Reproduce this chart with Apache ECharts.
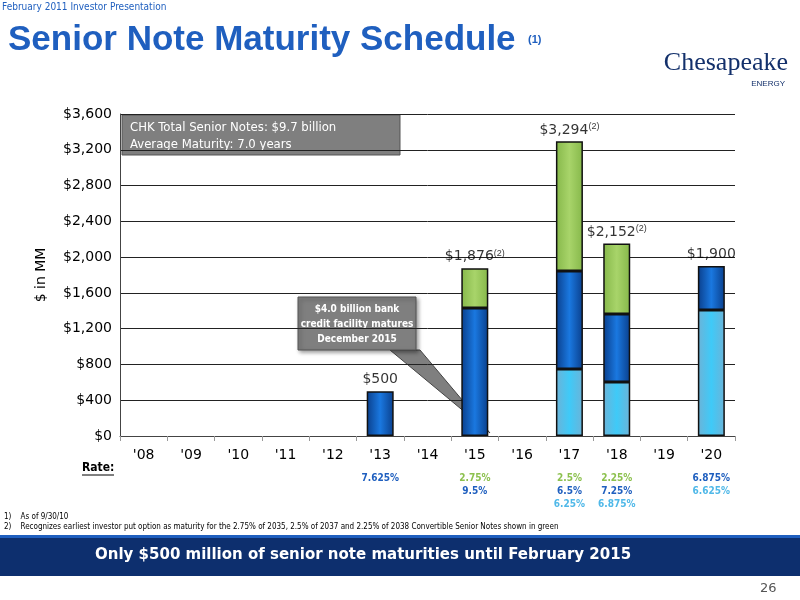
<!DOCTYPE html>
<html><head><meta charset="utf-8">
<script src="https://cdn.jsdelivr.net/npm/echarts@6/dist/echarts.min.js"></script>
<style>html,body{margin:0;padding:0;background:#fff}#c{width:800px;height:600px}</style>
</head><body><div id="c"></div>
<script>
const categories = ["'08","'09","'10","'11","'12","'13","'14","'15","'16","'17","'18","'19","'20"];
const lightBlue = [null,null,null,null,null,null,null,null,null,749,604,null,1409];
const darkBlue  = [null,null,null,null,null,500,null,1432,null,1096,761,null,491];
const green     = [null,null,null,null,null,null,null,444,null,1449,787,null,null];
const totals    = [null,null,null,null,null,500,null,1876,null,3294,2152,null,1900];
const totalNote = ['','','','','','','','(2)','','(2)','(2)','',''];
const rates = {5:[['7.625%','#1f5fbf']],7:[['2.75%','#8dc14f'],['9.5%','#1f5fbf']],9:[['2.5%','#8dc14f'],['6.5%','#1f5fbf'],['6.25%','#4fb8e8']],10:[['2.25%','#8dc14f'],['7.25%','#1f5fbf'],['6.875%','#4fb8e8']],12:[['6.875%','#1f5fbf'],['6.625%','#4fb8e8']]};

const grad=(a,b)=>new echarts.graphic.LinearGradient(0,0,1,0,[{offset:0,color:a},{offset:0.5,color:b},{offset:1,color:a}]);
const barBase={type:'bar',stack:'t',barWidth:27,itemStyle:{borderColor:'#111',borderWidth:1.5}};
const chart=echarts.init(document.getElementById('c'));
const gx0=120,gx1=735,cw=(gx1-gx0)/categories.length;
const rateTexts=[];
Object.keys(rates).forEach(k=>{rates[k].forEach((r,j)=>{rateTexts.push({type:'text',style:{text:r[0],x:gx0+cw*(+k+0.5),y:473+j*13,fill:r[1],font:'bold 10px "DejaVu Sans Condensed", sans-serif',align:'center'}});});});
chart.setOption({
  animation:false,
  grid:{left:120,right:65,top:114,bottom:164},
  xAxis:{type:'category',data:categories,axisLine:{lineStyle:{color:'#444'}},axisTick:{show:true,lineStyle:{color:'#999'}},
    axisLabel:{color:'#000',fontSize:14,fontFamily:'DejaVu Sans',margin:12}},
  yAxis:{type:'value',min:0,max:3600,interval:400,axisLine:{show:true,lineStyle:{color:'#444'}},
    splitLine:{lineStyle:{color:'#222',width:1}},
    axisLabel:{color:'#000',fontSize:14,fontFamily:'DejaVu Sans',formatter:v=>'$'+v.toLocaleString('en-US')},
    name:'$ in MM',nameLocation:'middle',nameGap:72,nameTextStyle:{fontSize:14,color:'#000',fontFamily:'DejaVu Sans'}},
  series:[
    Object.assign({},barBase,{name:'light',data:lightBlue,itemStyle:Object.assign({},barBase.itemStyle,{color:grad('#6cb3d8','#3fcaf8')})}),
    Object.assign({},barBase,{name:'dark',data:darkBlue,itemStyle:Object.assign({},barBase.itemStyle,{color:grad('#0a3f8c','#1a78e0')})}),
    Object.assign({},barBase,{name:'green',data:green,itemStyle:Object.assign({},barBase.itemStyle,{color:grad('#86b84a','#a8d46a')})}),
    {type:'scatter',data:totals,symbolSize:0,label:{show:true,position:'top',distance:4,
      formatter:p=>'{v|$'+p.value.toLocaleString('en-US')+'}{s|'+totalNote[p.dataIndex]+'}',
      rich:{v:{fontSize:14,color:'#000',fontFamily:'DejaVu Sans'},s:{fontSize:9,color:'#000',verticalAlign:'top',padding:[0,0,6,0]}}}}
  ],
  graphic:[
    {type:'text',style:{text:'February 2011 Investor Presentation',x:2,y:2,fill:'#1f5fbf',font:'10px "DejaVu Sans Condensed", sans-serif'}},
    {type:'text',style:{text:'Senior Note Maturity Schedule',x:8,y:23,fill:'#1f5fbf',font:'bold 35px "Liberation Sans", Arial, sans-serif'}},
    {type:'text',style:{text:'(1)',x:528,y:34,fill:'#1f5fbf',font:'bold 11px "Liberation Sans", sans-serif'}},
    {type:'text',style:{text:'Chesapeake',x:788,y:50,align:'right',fill:'#13306b',font:'26px "Liberation Serif", serif'}},
    {type:'text',style:{text:'ENERGY',x:785,y:80,align:'right',fill:'#13306b',font:'8px "Liberation Sans", sans-serif'}},
    {type:'rect',shape:{x:122,y:115,width:278,height:40},style:{fill:'#7f7f7f',stroke:'#555'}},
    {type:'text',style:{text:'CHK Total Senior Notes: $9.7 billion\nAverage Maturity: 7.0 years',x:130,y:119,fill:'#fff',font:'13px "DejaVu Sans Condensed", sans-serif',lineHeight:17}},
    {type:'polygon',shape:{points:[[390,350],[420,350],[490,433]]},style:{fill:'#7f7f7f',stroke:'#444'}},
    {type:'rect',shape:{x:298,y:297,width:118,height:53},style:{fill:'#7f7f7f',stroke:'#555',shadowBlur:4,shadowColor:'rgba(0,0,0,0.4)',shadowOffsetX:2,shadowOffsetY:2}},
    {type:'text',style:{text:'$4.0 billion bank\ncredit facility matures\nDecember 2015',x:357,y:302,align:'center',fill:'#fff',font:'bold 10px "DejaVu Sans Condensed", sans-serif',lineHeight:15}},
    {type:'text',style:{text:'Rate:',x:82,y:462,fill:'#000',font:'bold 12px "DejaVu Sans Condensed", sans-serif'}},
    {type:'line',shape:{x1:82,y1:475,x2:114,y2:475},style:{stroke:'#000',lineWidth:1}},
    ...rateTexts,
    {type:'text',style:{text:'1)    As of 9/30/10\n2)    Recognizes earliest investor put option as maturity for the 2.75% of 2035, 2.5% of 2037 and 2.25% of 2038 Convertible Senior Notes shown in green',x:4,y:512,fill:'#000',font:'8px "DejaVu Sans Condensed", sans-serif',lineHeight:10}},
    {type:'rect',shape:{x:0,y:535,width:800,height:3},style:{fill:'#1f5fbf'}},
    {type:'rect',shape:{x:0,y:538,width:800,height:38},style:{fill:'#0d2f6e'}},
    {type:'text',style:{text:'Only $500 million of senior note maturities until February 2015',x:95,y:548,fill:'#fff',font:'bold 15px "DejaVu Sans", sans-serif'}},
    {type:'text',style:{text:'26',x:760,y:582,fill:'#555',font:'13px "DejaVu Sans", sans-serif'}}
  ]
});
</script></body></html>
